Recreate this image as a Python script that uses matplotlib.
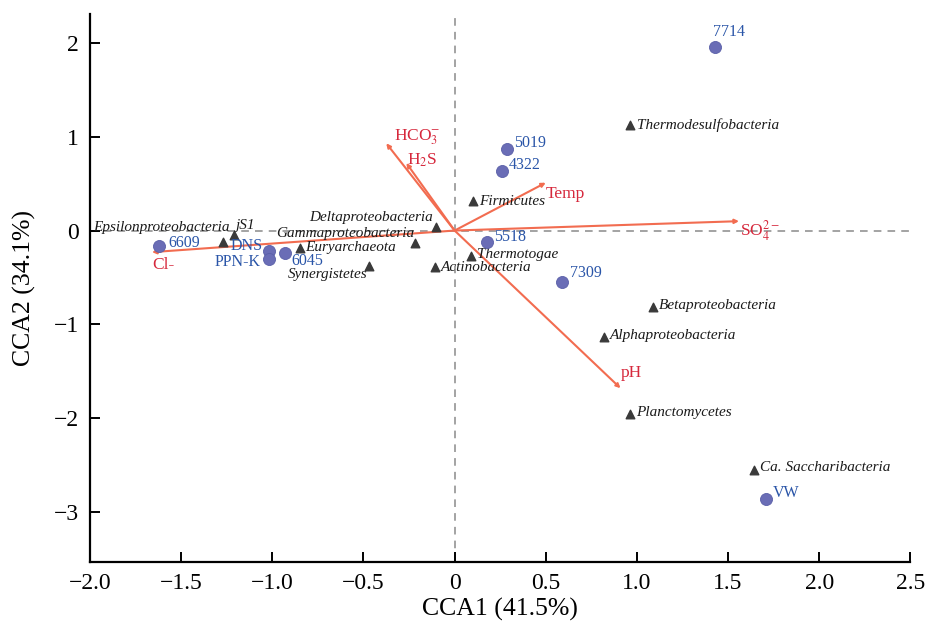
import matplotlib
matplotlib.use('Agg')
import matplotlib.pyplot as plt
from matplotlib.ticker import FixedLocator, FuncFormatter

plt.rcParams['font.family'] = ['Liberation Serif', 'DejaVu Serif']
plt.rcParams['mathtext.fontset'] = 'stix'

# samples (sites)
sample_names = ['7714', '5019', '4322', '5518', '7309', 'VW', '6609', 'DNS', 'PPN-K', '6045']
sample_x = [1.43, 0.29, 0.26, 0.18, 0.59, 1.71, -1.62, -1.02, -1.02, -0.93]
sample_y = [1.96, 0.87, 0.63, -0.12, -0.55, -2.86, -0.165, -0.22, -0.30, -0.24]

# taxa
taxa_names = ['Thermodesulfobacteria', 'Firmicutes', 'Deltaproteobacteria', 'Gammaproteobacteria',
              'Euryarchaeota', 'Synergistetes', 'Actinobacteria', 'Thermotogae',
              'Epsilonproteobacteria', 'jS1', 'Betaproteobacteria', 'Alphaproteobacteria',
              'Planctomycetes', 'Ca. Saccharibacteria']
taxa_x = [0.96, 0.10, -0.10, -0.22, -0.85, -0.47, -0.11, 0.09, -1.27, -1.21, 1.09, 0.82, 0.96, 1.64]
taxa_y = [1.12, 0.31, 0.04, -0.13, -0.19, -0.38, -0.39, -0.27, -0.12, -0.05, -0.81, -1.13, -1.95, -2.55]

# environmental vectors
env_names = [r'HCO$_3^{-}$', r'H$_2$S', 'Temp', r'SO$_4^{2-}$', 'pH', 'Cl-']
env_x = [-0.375, -0.265, 0.50, 1.56, 0.91, -1.66]
env_y = [0.93, 0.72, 0.51, 0.10, -1.68, -0.23]

# label placement (offset in pixels, alignment)
sample_off = [(-2, 7, 'left', 'bottom'), (7, 6, 'left', 'center'), (7, 6, 'left', 'center'),
              (7, 5, 'left', 'center'), (8, 9, 'left', 'center'), (6, 6, 'left', 'center'),
              (9, 3, 'left', 'center'), (-6, 5, 'right', 'center'), (-8, -3, 'right', 'center'),
              (6, -8, 'left', 'center')]
taxa_off = [(7, 0, 'left'), (6, 0, 'left'), (-3, 9, 'right'), (0, 9, 'right'), (6, 1, 'left'),
            (-1, -8, 'right'), (6, 0, 'left'), (6, 1, 'left'), (7, 14, 'right'), (2, 10, 'left'),
            (6, 1, 'left'), (6, 1, 'left'), (6, 1, 'left'), (6, 2, 'left')]
env_off = [(8, 6), (1, 3), (0, -11), (1, -9), (0, 15), (0, -13)]

fig = plt.figure(figsize=(9.28, 6.27), dpi=100)
ax = fig.add_axes([0.097, 0.104, 0.884, 0.874])

ax.axhline(0, color='#8a8a8a', lw=1.1, ls=(0, (5, 4)), zorder=1)
ax.axvline(0, color='#8a8a8a', lw=1.1, ls=(0, (5, 4)), zorder=1)

arrow_col = '#f26c50'
label_red = '#d6283c'
for name, x, y, off in zip(env_names, env_x, env_y, env_off):
    ax.annotate('', xy=(x, y), xytext=(0, 0),
                arrowprops=dict(arrowstyle='-|>', color=arrow_col, lw=1.5,
                                mutation_scale=6, shrinkA=0, shrinkB=0), zorder=2)
    ax.annotate(name, xy=(x, y), xytext=off, textcoords='offset pixels',
                ha='left', va='center', color=label_red, fontsize=12.5, zorder=4)

ax.scatter(taxa_x, taxa_y, marker='^', s=38, color='#3a3a3a', zorder=3)
for name, x, y, off in zip(taxa_names, taxa_x, taxa_y, taxa_off):
    ax.annotate(name, xy=(x, y), xytext=off[:2], textcoords='offset pixels',
                ha=off[2], va='center', style='italic', color='#1a1a1a', fontsize=11, zorder=4)

ax.scatter(sample_x, sample_y, marker='o', s=75, color='#6a6db6', edgecolors='#5a5fa8',
           linewidths=0.6, zorder=5)
for name, x, y, off in zip(sample_names, sample_x, sample_y, sample_off):
    ax.annotate(name, xy=(x, y), xytext=off[:2], textcoords='offset pixels',
                ha=off[2], va=off[3], color='#2a55a8', fontsize=11.5, zorder=6)

ax.set_xlim(-2.0, 2.5)
ax.set_ylim(-3.53, 2.31)
ax.xaxis.set_major_locator(FixedLocator([-2.0, -1.5, -1.0, -0.5, 0, 0.5, 1.0, 1.5, 2.0, 2.5]))
ax.yaxis.set_major_locator(FixedLocator([-3, -2, -1, 0, 1, 2]))
ax.xaxis.set_major_formatter(FuncFormatter(lambda v, p: '0' if abs(v) < 1e-9 else ('%.1f' % v).replace('-', '\u2212')))
ax.yaxis.set_major_formatter(FuncFormatter(lambda v, p: ('%d' % v).replace('-', '\u2212')))

for s in ['top', 'right']:
    ax.spines[s].set_visible(False)
for s in ['left', 'bottom']:
    ax.spines[s].set_linewidth(1.6)
ax.tick_params(direction='in', length=7, width=1.4, labelsize=17, pad=8)

ax.set_xlabel('CCA1 (41.5%)', fontsize=18.5, labelpad=3)
ax.set_ylabel('CCA2 (34.1%)', fontsize=18.5, labelpad=13)

fig.savefig('out.png', dpi=100)
